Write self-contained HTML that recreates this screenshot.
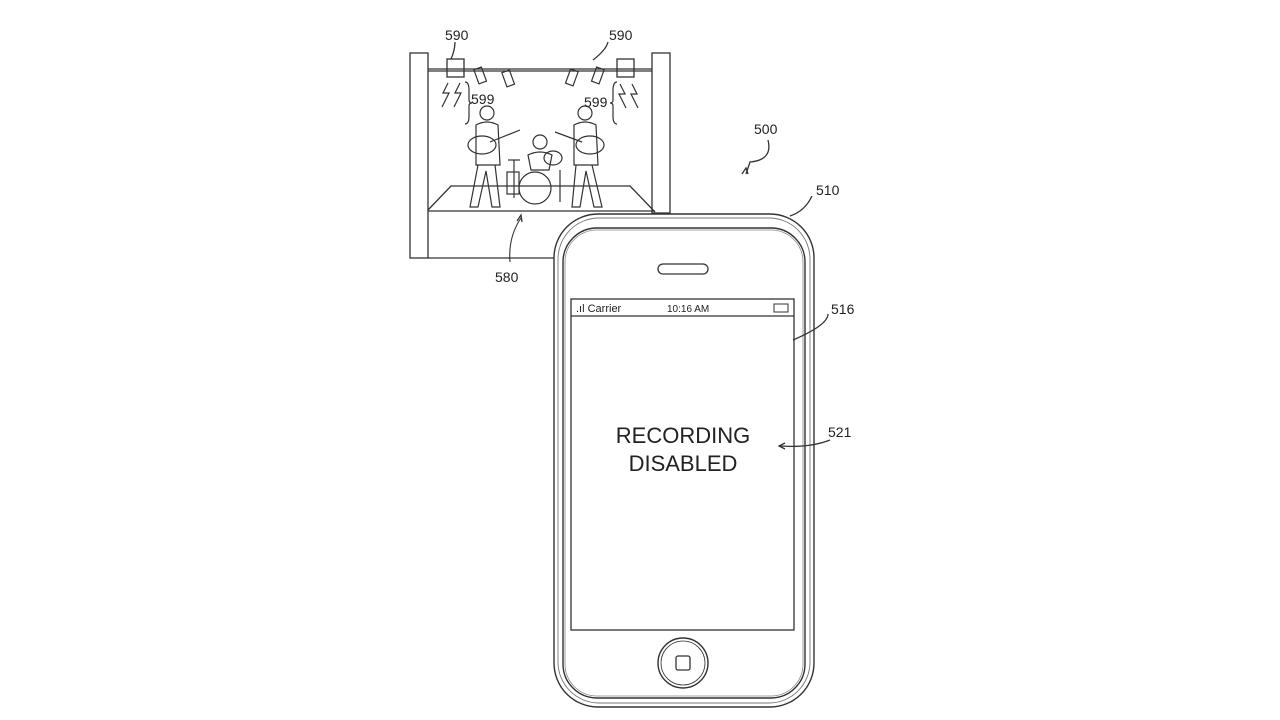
<!DOCTYPE html>
<html><head><style>body{margin:0;background:#fff}svg{display:block}</style></head><body>
<svg width="1280" height="720" viewBox="0 0 1280 720" font-family="Liberation Sans, sans-serif" fill="none" stroke="#333" stroke-width="1.3">
<rect x="410" y="53" width="18" height="205"/>
<rect x="652" y="53" width="18" height="160"/>
<line x1="428" y1="69" x2="652" y2="69"/><line x1="428" y1="71" x2="652" y2="71"/>
<line x1="428" y1="258" x2="555" y2="258"/>
<polyline points="428,210 451,186 630,186 655,212"/>
<line x1="428" y1="211" x2="655" y2="211"/>
<rect x="447" y="59" width="17" height="18"/><rect x="617" y="59" width="17" height="18"/>
<g stroke-width="1.2">
<rect x="476" y="68" width="8" height="15" transform="rotate(-20 480 75)"/>
<rect x="504" y="71" width="8" height="15" transform="rotate(-20 508 78)"/>
<rect x="568" y="70" width="8" height="15" transform="rotate(20 572 77)"/>
<rect x="594" y="68" width="8" height="15" transform="rotate(20 598 75)"/>
<path d="M448 83 l-5 10 l6 0 l-7 14 M460 83 l-5 10 l6 0 l-7 14"/>
<path d="M620 84 l5 10 l-6 0 l7 14 M632 84 l5 10 l-6 0 l7 14"/>
<path d="M465 82 q4 0 4 8 v10 q0 3 3 3 q-3 0 -3 3 v10 q0 8 -4 8"/>
<path d="M617 82 q-4 0 -4 8 v10 q0 3 -3 3 q3 0 3 3 v10 q0 8 4 8"/>
<circle cx="487" cy="113" r="7"/><path d="M476 125 q11 -6 22 0 l2 40 h-24 z M478 165 l-8 42 h8 l8 -36 l6 36 h8 l-5 -42"/>
<ellipse cx="482" cy="145" rx="14" ry="9"/><line x1="490" y1="142" x2="520" y2="130"/>
<circle cx="585" cy="113" r="7"/><path d="M574 125 q11 -6 22 0 l2 40 h-24 z M576 165 l-4 42 h8 l6 -36 l8 36 h8 l-10 -42"/>
<ellipse cx="590" cy="145" rx="14" ry="9"/><line x1="582" y1="142" x2="555" y2="132"/>
<circle cx="540" cy="142" r="7"/><path d="M528 155 q12 -6 24 0 l-3 15 h-18 z"/>
<circle cx="535" cy="188" r="16"/><ellipse cx="553" cy="158" rx="9" ry="7"/>
<line x1="508" y1="160" x2="520" y2="160"/><line x1="514" y1="160" x2="514" y2="198"/>
<rect x="507" y="172" width="12" height="22"/><line x1="560" y1="170" x2="560" y2="202"/>
</g>
<path d="M510 262 q-2 -25 11 -44" stroke-width="1.1"/><path d="M517 221 l4 -6 l1 7"/>
<rect x="554" y="214" width="260" height="493" rx="44" stroke-width="1.4" fill="#fff"/>
<rect x="558" y="218" width="252" height="485" rx="41" stroke-width="0.9" stroke="#777"/>
<rect x="563" y="228" width="242" height="470" rx="34" stroke-width="1.4"/>
<rect x="565" y="230" width="238" height="466" rx="32" stroke-width="0.8" stroke="#888"/>
<rect x="658" y="264" width="50" height="10" rx="5" stroke-width="1.3"/>
<rect x="571" y="299" width="223" height="331" stroke-width="1.3"/>
<line x1="571" y1="316" x2="794" y2="316"/>
<rect x="774" y="304" width="14" height="8" stroke-width="1"/>
<circle cx="683" cy="663" r="25" stroke-width="1.4"/><circle cx="683" cy="663" r="22" stroke-width="0.8"/>
<rect x="676" y="656" width="14" height="14" rx="2" stroke-width="1.3"/>
<path d="M793 340 q35 -15 35 -26"/>
<path d="M790 216 q15 -5 22 -20"/>
<path d="M768 140 q5 20 -18 22 l-4 12"/>
<path d="M742 174 l4 -6 l2 6"/>
<path d="M830 440 q-20 8 -50 6"/><path d="M785 443 l-6 3 l6 3"/>
<path d="M608 42 q-2 8 -15 18 M455 42 q0 8 -4 17"/>
<g fill="#222" stroke="none" font-size="14">
<text x="445" y="40">590</text><text x="609" y="40">590</text>
<text x="471" y="104">599</text><text x="584" y="107">599</text>
<text x="495" y="282">580</text><text x="754" y="134">500</text>
<text x="816" y="195">510</text><text x="831" y="314">516</text><text x="828" y="437">521</text>
<text x="576" y="312" font-size="11">.ıl Carrier</text><text x="667" y="312" font-size="10">10:16 AM</text>
<text x="683" y="443" font-size="22" text-anchor="middle">RECORDING</text>
<text x="683" y="471" font-size="22" text-anchor="middle">DISABLED</text>
</g>
</svg>
</body></html>
